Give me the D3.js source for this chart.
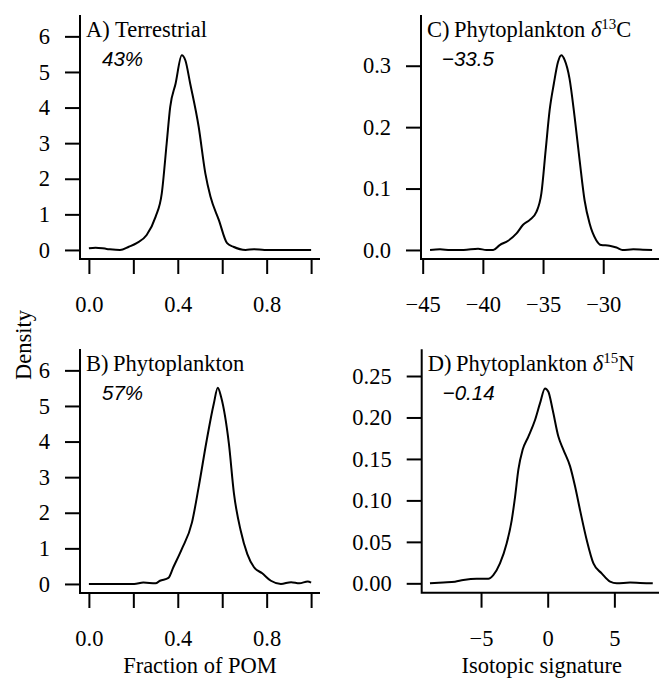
<!DOCTYPE html>
<html>
<head>
<meta charset="utf-8">
<script src="https://cdn.jsdelivr.net/npm/d3@7"></script>
<style>
  body { margin: 0; background: #fff; }
  svg { display: block; }
  text { font-family: "Liberation Serif", "Times New Roman", serif; fill: #000; }
  .tick line { stroke: #000; stroke-width: 2; }
</style>
</head>
<body>
<script>
// density curves
var terrX = [0, 0.03, 0.08, 0.14, 0.18, 0.215, 0.26, 0.30, 0.328, 0.35, 0.366, 0.39, 0.418, 0.434, 0.456, 0.494, 0.524, 0.547, 0.585, 0.622, 0.65, 0.705, 0.743, 0.79, 1.0];
var terrY = [0.05, 0.065, 0.03, 0, 0.09, 0.19, 0.42, 0.93, 1.59, 2.99, 4.02, 4.67, 5.47, 5.33, 4.67, 3.46, 2.15, 1.50, 0.84, 0.19, 0.09, 0, 0.02, 0, 0];

var phytoX = [0, 0.204, 0.245, 0.30, 0.32, 0.358, 0.38, 0.418, 0.464, 0.494, 0.53, 0.562, 0.58, 0.595, 0.63, 0.653, 0.683, 0.713, 0.743, 0.78, 0.819, 0.864, 0.91, 0.947, 0.985, 1.0];
var phytoY = [0, 0, 0.04, 0.02, 0.09, 0.17, 0.47, 0.98, 1.73, 2.72, 4.03, 5.06, 5.51, 5.25, 3.94, 2.53, 1.5, 0.84, 0.47, 0.30, 0.09, 0, 0.05, 0.02, 0.07, 0.04];

var d13cX = [-44.39, -43.56, -42.7, -41.6, -40.4, -39.7, -39.14, -38.6, -37.9, -37.2, -36.66, -36.1, -35.55, -35.14, -34.78, -34.45, -34.1, -33.76, -33.48, -33.2, -32.8, -32.38, -31.96, -31.55, -31.13, -30.58, -30.17, -29.48, -28.9, -28.4, -27.5, -26.7, -25.94];
var d13cY = [0, 0.001, 0, 0, 0.002, 0, 0, 0.008, 0.015, 0.027, 0.041, 0.049, 0.062, 0.092, 0.163, 0.228, 0.271, 0.306, 0.317, 0.309, 0.279, 0.217, 0.146, 0.081, 0.043, 0.016, 0.008, 0.007, 0.004, 0, 0.001, 0.0005, 0];

var d15nX = [-8.83, -7.83, -6.95, -6.33, -5.33, -4.45, -4.08, -3.58, -3.08, -2.7, -2.45, -2.2, -1.88, -1.45, -0.95, -0.58, -0.2, 0.05, 0.375, 0.8, 1.18, 1.68, 2.05, 2.43, 2.93, 3.43, 4.05, 4.68, 5.18, 6.18, 6.93, 7.88];
var d15nY = [0, 0.001, 0.002, 0.004, 0.0056, 0.0056, 0.01, 0.024, 0.048, 0.076, 0.104, 0.137, 0.161, 0.177, 0.197, 0.217, 0.235, 0.231, 0.209, 0.177, 0.161, 0.141, 0.117, 0.088, 0.052, 0.024, 0.012, 0.002, 0, 0.001, 0.0005, 0];

// ticks and labels
var fracTicks = [0, 0.2, 0.4, 0.6, 0.8, 1.0];
var fracLabels = [0, 0.4, 0.8];
var densTicks = [0, 1, 2, 3, 4, 5, 6];
var d13cXTicks = [-45, -40, -35, -30];
var d13cYTicks = [0, 0.1, 0.2, 0.3];
var d15nXTicks = [-5, 0, 5];
var d15nYTicks = [0, 0.05, 0.10, 0.15, 0.20, 0.25];

var letters = ['A)', 'B)', 'C)', 'D)'];
var names = [' Terrestrial', '\u2009Phytoplankton', '\u2009Phytoplankton ', '\u2009Phytoplankton '];
var isoSup = [null, null, '13', '15'];
var isoEl = [null, null, 'C', 'N'];
var summaries = ['43%', '57%', '\u221233.5', '\u22120.14'];

var width = 659, height = 678;
var svg = d3.select('body').append('svg').attr('width', width).attr('height', height);

var fs = 22.5;
var serif = '"Liberation Serif", "Times New Roman", serif';

var panels = [
  { xs: terrX, ys: terrY, left: 80, top: 15, w: 240, h: 244,
    xd: [-0.04, 1.04], yd: [-0.254, 6.6], xt: fracTicks, xl: fracLabels, xf: d3.format('.1f'),
    yt: densTicks, yf: d3.format('d'), i: 0 },
  { xs: phytoX, ys: phytoY, left: 80, top: 349, w: 240, h: 244,
    xd: [-0.04, 1.04], yd: [-0.254, 6.6], xt: fracTicks, xl: fracLabels, xf: d3.format('.1f'),
    yt: densTicks, yf: d3.format('d'), i: 1, xtitle: 'Fraction of POM' },
  { xs: d13cX, ys: d13cY, left: 421, top: 15, w: 240, h: 244,
    xd: [-45.14, -25.2], yd: [-0.0147, 0.3826], xt: d13cXTicks, xl: d13cXTicks, xf: d3.format('d'),
    yt: d13cYTicks, yf: d3.format('.1f'), i: 2 },
  { xs: d15nX, ys: d15nY, left: 421.7, top: 349.3, w: 240, h: 243.4,
    xd: [-9.45, 8.55], yd: [-0.0113, 0.2822], xt: d15nXTicks, xl: d15nXTicks, xf: d3.format('d'),
    yt: d15nYTicks, yf: d3.format('.2f'), i: 3, xtitle: 'Isotopic signature' }
];

function minus(s) { return s.replace('-', '\u2212'); }

panels.forEach(function (p) {
  var g = svg.append('g').attr('transform', 'translate(' + p.left + ',' + p.top + ')');
  var x = d3.scaleLinear().domain(p.xd).range([0, p.w]);
  var y = d3.scaleLinear().domain(p.yd).range([p.h, 0]);

  var xAxis = d3.axisBottom(x).tickValues(p.xt).tickSize(15).tickPadding(22)
    .tickFormat(function (d) { return p.xl.indexOf(d) >= 0 ? minus(p.xf(d)) : ''; });
  var gx = g.append('g').attr('transform', 'translate(0,' + p.h + ')').call(xAxis)
    .attr('font-family', serif).attr('font-size', fs);
  gx.select('.domain').remove();

  var yAxis = d3.axisLeft(y).tickValues(p.yt).tickSize(15).tickPadding(15)
    .tickFormat(p.yf);
  var gy = g.append('g').call(yAxis)
    .attr('font-family', serif).attr('font-size', fs);
  gy.select('.domain').remove();

  // L-shaped box
  g.append('path')
    .attr('d', 'M0,0V' + p.h + 'H' + p.w)
    .attr('fill', 'none').attr('stroke', '#000').attr('stroke-width', 2);

  var line = d3.line()
    .x(function (d, i) { return x(p.xs[i]); })
    .y(function (d) { return y(d); })
    .curve(d3.curveMonotoneX);
  g.append('path').datum(p.ys)
    .attr('d', line)
    .attr('fill', 'none').attr('stroke', '#000').attr('stroke-width', 2)
    .attr('stroke-linejoin', 'round');

  // panel title
  var t = g.append('text').attr('x', 6).attr('y', 21.7).style('font-size', fs + 'px');
  t.append('tspan').text(letters[p.i]);
  t.append('tspan').text(names[p.i]);
  if (isoSup[p.i]) {
    t.append('tspan').style('font-style', 'italic').text('\u03b4');
    t.append('tspan').attr('dy', -8).style('font-size', '15px').text(isoSup[p.i]);
    t.append('tspan').attr('dy', 8).text(isoEl[p.i]);
  }
  g.append('text').attr('x', p.i < 2 ? 22 : 21).attr('y', 51)
    .style('font-family', '"Liberation Sans", Arial, sans-serif')
    .style('font-style', 'italic').style('font-size', '20.5px').text(summaries[p.i]);

  if (p.xtitle) {
    g.append('text').attr('x', p.w / 2).attr('y', p.h + 80)
      .attr('text-anchor', 'middle').style('font-size', fs + 'px').text(p.xtitle);
  }
});

svg.append('text')
  .attr('transform', 'translate(31,345) rotate(-90)')
  .attr('text-anchor', 'middle').style('font-size', fs + 'px').text('Density');
</script>
</body>
</html>
